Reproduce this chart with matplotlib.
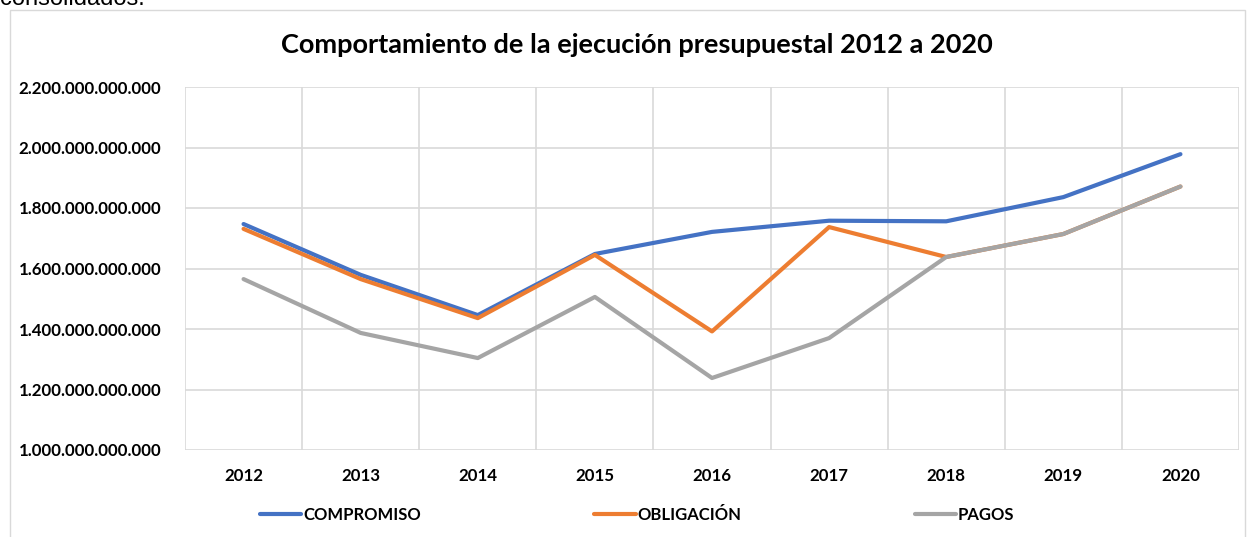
import numpy as np
import matplotlib
matplotlib.use("Agg")
from matplotlib import pyplot as plt
from matplotlib.ticker import FuncFormatter, MultipleLocator
from matplotlib.patches import Rectangle

years = [2012, 2013, 2014, 2015, 2016, 2017, 2018, 2019, 2020]
# values in billions (thousands of millions) of pesos
compromiso = [1747, 1579, 1446, 1648, 1721, 1758, 1756, 1836, 1978]
obligacion = [1731, 1565, 1436, 1645, 1392, 1737, 1638, 1714, 1871]
pagos = [1565, 1387, 1304, 1506, 1238, 1370, 1638, 1714, 1871]
series_names = ["COMPROMISO", "OBLIGACIÓN", "PAGOS"]
colors = ["#4472C4", "#ED7D31", "#A5A5A5"]

plt.rcParams['font.family'] = ['Lato', 'DejaVu Sans']

fig = plt.figure(figsize=(12.53, 5.37), dpi=100)
ax = fig.add_axes([185 / 1253, 1 - 450 / 537, (1239 - 185) / 1253, (450 - 87) / 537])

x = np.arange(len(years))
scale = 1e9
for vals, name, c in zip([compromiso, obligacion, pagos], series_names, colors):
    ax.plot(x, np.array(vals) * scale, color=c, lw=3, label=name,
            solid_capstyle='round', solid_joinstyle='round', zorder=3)

ax.set_xlim(-0.5, len(years) - 0.5)
ax.set_ylim(1000e9, 2200e9)
ax.yaxis.set_major_locator(MultipleLocator(200e9))
ax.yaxis.set_major_formatter(FuncFormatter(lambda v, p: f"{v:,.0f}".replace(",", ".")))
ax.set_xticks(x)
ax.set_xticklabels([str(y) for y in years])
ax.set_xticks(np.arange(-0.5, len(years)), minor=True)
ax.grid(True, axis='y', color='#d9d9d9', lw=1.2)
ax.grid(True, axis='x', which='minor', color='#d9d9d9', lw=1.2)
ax.set_axisbelow(True)
for s in ax.spines.values():
    s.set_visible(False)
ax.tick_params(axis='both', which='both', length=0)
ax.tick_params(axis='x', pad=13)
ax.tick_params(axis='y', pad=17)
for lab in ax.get_xticklabels() + ax.get_yticklabels():
    lab.set_fontweight('bold')
    lab.set_fontsize(12.2)

fig.text(637 / 1253, 1 - 45 / 537, "Comportamiento de la ejecución presupuestal 2012 a 2020",
         ha='center', va='center', fontsize=19.5, fontweight='bold')

# chart frame
fig.patches.append(Rectangle((10 / 1253, -0.01), (1245 - 10) / 1253, 1 - 10 / 537 + 0.01,
                             transform=fig.transFigure, fill=False, ec='#d9d9d9', lw=1))
# clipped body text above the chart
fig.text(0.0, 1 + 1 / 537, "consolidados.", ha='left', va='center',
         fontsize=17, family='Liberation Sans')

leg = fig.legend(loc='center', bbox_to_anchor=(637 / 1253, 1 - 515 / 537), ncol=3,
                 frameon=False, handlelength=2.5, handletextpad=0.1, columnspacing=10.4,
                 prop={'weight': 'bold', 'size': 12})

fig.savefig("out.png", dpi=100)
